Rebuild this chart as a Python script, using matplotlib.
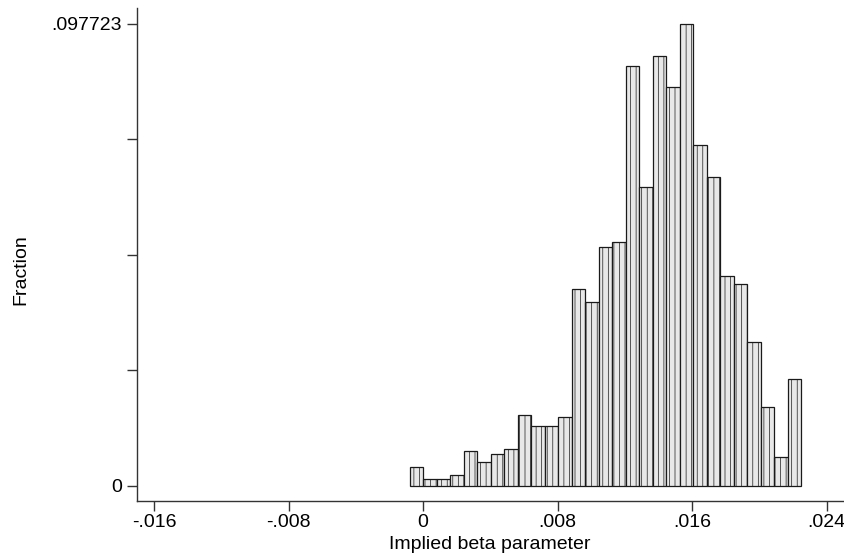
import numpy as np
import matplotlib
matplotlib.use("Agg")
import matplotlib.pyplot as plt

# histogram bins (left edges) and fractions
bin_width = 0.000803
bin_start = -0.0008
fractions = [0.00396, 0.00155, 0.00155, 0.00226, 0.00730, 0.00508, 0.00666,
             0.00776, 0.01498, 0.01276, 0.01276, 0.01453, 0.04161, 0.03892,
             0.05055, 0.05161, 0.08878, 0.06318, 0.09102, 0.08433, 0.097723,
             0.07213, 0.06543, 0.04436, 0.04273, 0.03052, 0.01671, 0.00620,
             0.02270]
x_ticks = [-0.016, -0.008, 0, 0.008, 0.016, 0.024]
x_tick_labels = ['-.016', '-.008', '0', '.008', '.016', '.024']
y_max = 0.097723

plt.rcParams['font.family'] = ['Liberation Sans', 'DejaVu Sans']
plt.rcParams['hatch.color'] = '#cfcfcf'
plt.rcParams['hatch.linewidth'] = 0.5

fig = plt.figure(figsize=(8.45, 5.56), dpi=100)
ax = fig.add_axes([0.1618, 0.0984, 0.8382, 0.8872])

lefts = bin_start + bin_width * np.arange(len(fractions))
ax.bar(lefts, fractions, width=bin_width, align='edge',
       facecolor='#e8e8e8', edgecolor='#1a1a1a', linewidth=0.9, hatch='|||')

ax.set_xlim(-0.01703, 0.02509)
ax.set_ylim(-0.00324, 0.1011)

ax.set_xticks(x_ticks)
ax.set_xticklabels(x_tick_labels)
ax.set_yticks(np.linspace(0, y_max, 5))
ax.set_yticklabels(['0', '', '', '', '.097723'])

ax.spines['top'].set_visible(False)
ax.spines['right'].set_visible(False)
for s in ['left', 'bottom']:
    ax.spines[s].set_color('#333333')
    ax.spines[s].set_linewidth(1.0)

ax.tick_params(axis='both', direction='out', length=7.5, width=1.0,
               color='#333333', labelsize=14)
ax.tick_params(axis='x', pad=2)
ax.tick_params(axis='y', pad=3)

ax.set_xlabel('Implied beta parameter', fontsize=14)
ax.set_ylabel('Fraction', fontsize=14)
ax.xaxis.set_label_coords(0.499, -0.070)
ax.yaxis.set_label_coords(-0.152, 0.469)

fig.savefig('out.png', dpi=100)
